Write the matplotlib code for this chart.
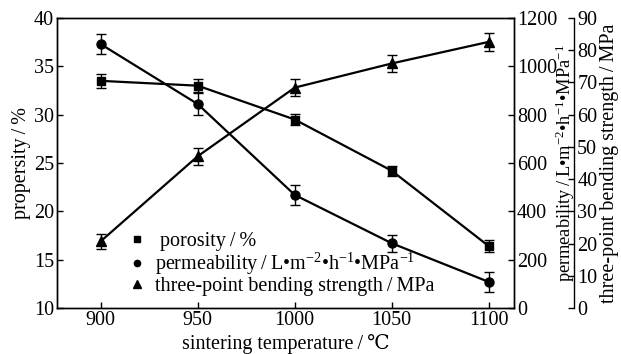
import matplotlib
matplotlib.use("Agg")
import matplotlib.pyplot as plt
from matplotlib.lines import Line2D

plt.rcParams['font.family'] = ['Liberation Serif', 'DejaVu Serif']
plt.rcParams['mathtext.fontset'] = 'custom'
plt.rcParams['mathtext.rm'] = 'Liberation Serif'
plt.rcParams['mathtext.it'] = 'Liberation Serif:italic'

temperature = [900, 950, 1000, 1050, 1100]
porosity = [33.5, 33.0, 29.5, 24.2, 16.4]
porosity_err = [0.7, 0.7, 0.6, 0.5, 0.6]
permeability = [1092, 844, 468, 268, 108]
permeability_err = [40, 44, 40, 35, 40]
strength = [20.7, 47.1, 68.4, 75.9, 82.6]
strength_err = [2.4, 2.7, 2.7, 2.6, 2.8]

fs = 14.5
sl = '\u2009/\u2009'
fig = plt.figure(figsize=(6.21, 3.54), dpi=100)
ax = fig.add_axes([0.0918, 0.1299, 0.7359, 0.8192])
ax2 = ax.twinx()
ax3 = ax.twinx()
ax3.spines['right'].set_position(('outward', 43.5))

ekw = dict(color='black', lw=1.6, elinewidth=1.0, capsize=3.5, capthick=1.0)
ax.errorbar(temperature, porosity, yerr=porosity_err, marker='s', ms=6, **ekw)
ax2.errorbar(temperature, permeability, yerr=permeability_err, marker='o', ms=6.5, **ekw)
ax3.errorbar(temperature, strength, yerr=strength_err, marker='^', ms=7.5, **ekw)

ax.set_xlim(877.5, 1113)
ax.set_ylim(10, 40)
ax.set_xticks(temperature)
ax.set_yticks([10, 15, 20, 25, 30, 35, 40])
ax2.set_ylim(0, 1200)
ax2.set_yticks([0, 200, 400, 600, 800, 1000, 1200])
ax3.set_ylim(0, 90)
ax3.set_yticks(range(0, 91, 10))

for a in (ax, ax2, ax3):
    a.tick_params(direction='in', labelsize=fs, length=4, width=1, pad=2)
    for s in a.spines.values():
        s.set_linewidth(1.0)
ax3.tick_params(pad=2)
ax3.spines['left'].set_visible(False)
ax3.spines['top'].set_visible(False)
ax3.spines['bottom'].set_visible(False)

ax.set_xlabel('sintering temperature' + sl + '℃', fontsize=fs, labelpad=3)
ax.set_ylabel('propersity' + sl + '%', fontsize=fs, labelpad=2)
perm_label = r'permeability' + sl + r'L•m$^{-2}$•h$^{-1}$•MPa$^{-1}$'
ax2.set_ylabel(perm_label, fontsize=13.2, labelpad=-2.5)
ax3.set_ylabel('three-point bending strength' + sl + 'MPa', fontsize=fs, labelpad=2)

handles = [
    Line2D([], [], color='black', marker='s', ls='none', ms=4.5),
    Line2D([], [], color='black', marker='o', ls='none', ms=4.5),
    Line2D([], [], color='black', marker='^', ls='none', ms=5.5),
]
labels = [' porosity' + sl + '%', perm_label, 'three-point bending strength' + sl + 'MPa']
ax.legend(handles, labels, loc='lower left', bbox_to_anchor=(0.13, 0.0),
          frameon=False, fontsize=fs, handlelength=0.8, handletextpad=0.5,
          labelspacing=0.0, borderaxespad=0.2)

fig.savefig('out.png', dpi=100)
